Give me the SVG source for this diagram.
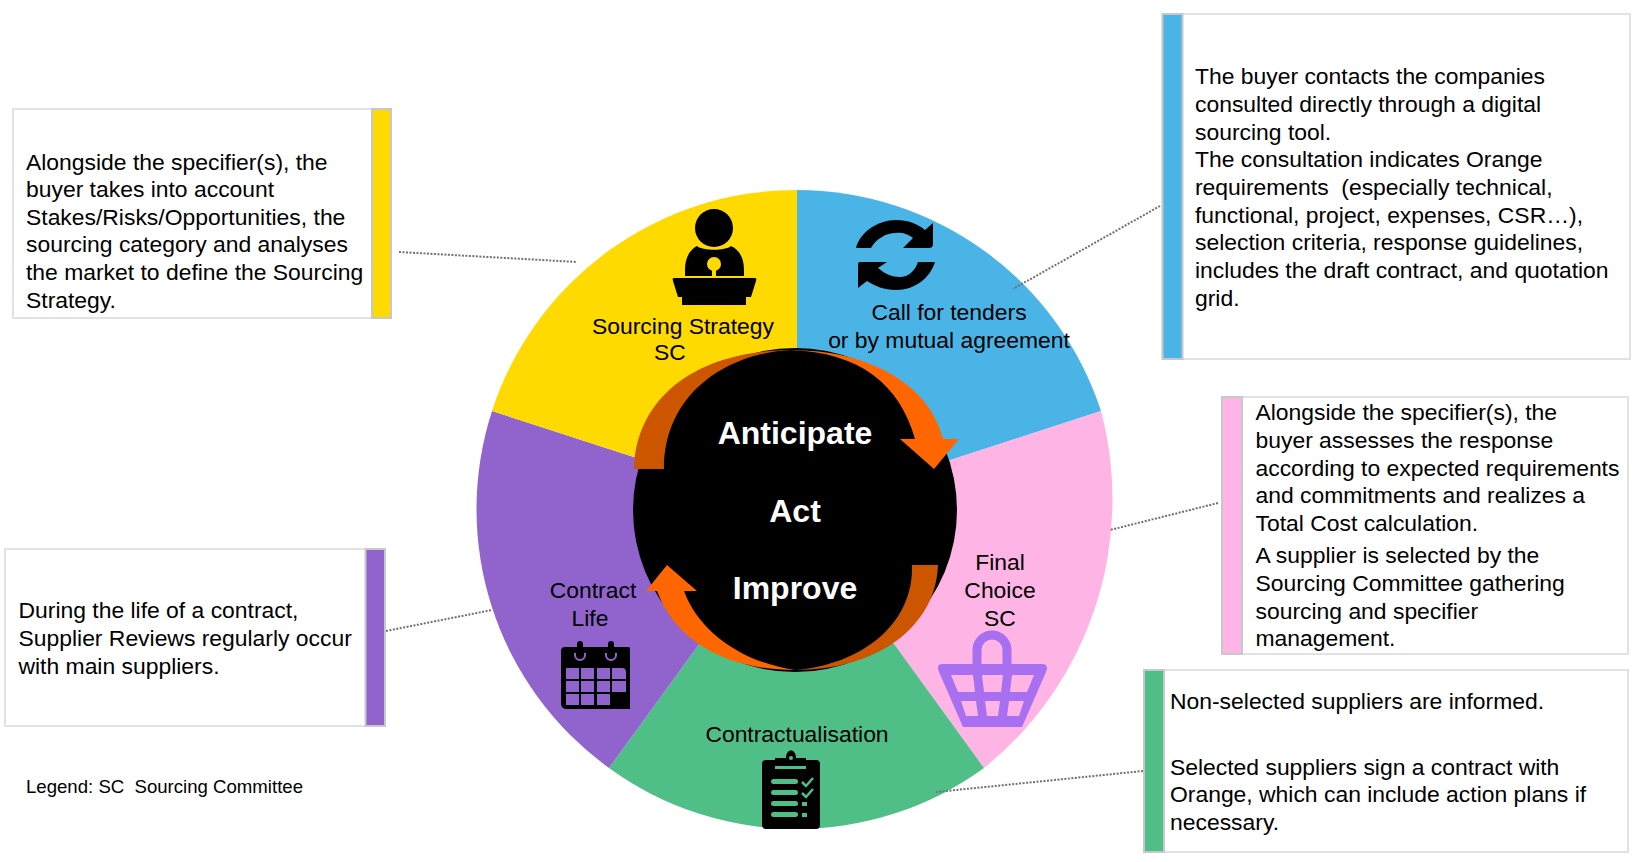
<svg xmlns="http://www.w3.org/2000/svg" width="1635" height="862" viewBox="0 0 1635 862">
<style>
text{font-family:"Liberation Sans",Arial,sans-serif;font-size:22.9px;fill:#000;white-space:pre}
.c{text-anchor:middle}
.b{font-weight:700;font-size:32px;fill:#fff;text-anchor:middle}
.box{fill:#fff;stroke:#e2e2e2;stroke-width:2}
.bar{stroke:#c8c8cc;stroke-width:2}
.lead{fill:none;stroke:#707070;stroke-width:2;stroke-dasharray:2 1.5}
</style>
<rect width="1635" height="862" fill="#fff"/>
<g id="wheel">
<path d="M797 510L797 190A320 320 0 0 1 1101 411Z" fill="#4BB4E6"/>
<path d="M797 510L1101 411A345 345 0 0 1 984 768Z" fill="#FFB4E6"/>
<path d="M797 510L984 768A319 319 0 0 1 609 768Z" fill="#50BE87"/>
<path d="M797 510L609 768A319 319 0 0 1 492 411Z" fill="#9164CD"/>
<path d="M797 510L492 411A320 320 0 0 1 797 190Z" fill="#FFDA00"/>
<circle cx="795" cy="510" r="162" fill="#000"/>
</g>
<g id="arrow-top">
<path d="M634 469C636 395 700 350 792 350C725 353 664 395 664 469Z" fill="#CC5500"/>
<path d="M790 350C870 350 930 385 943 439L959 439L934 469L900 439L915 439C900 385 860 352 790 350Z" fill="#FF6600"/>
</g>
<g id="arrow-bottom">
<path d="M912 565L938 565C936 625 880 670 795 670C860 665 914 625 912 565Z" fill="#CC5500"/>
<path d="M795 670C725 670 675 640 657 591L646 591L667 565L697 591L684 591C698 630 740 662 795 670Z" fill="#FF6600"/>
</g>
<g id="center-labels">
<text class="b" x="795" y="444">Anticipate</text>
<text class="b" x="795" y="522">Act</text>
<text class="b" x="795" y="599">Improve</text>
</g>
<g id="seg-sourcing">
<circle cx="714" cy="228" r="19"/>
<path d="M697 246C703 251 725 251 731 246C740 250 744 259 744 270L744 276L685 276L685 270C685 259 689 250 697 246Z"/>
<circle cx="714" cy="264" r="7" fill="#FFDA00"/>
<rect x="712" y="266" width="4" height="12" fill="#FFDA00"/>
<path d="M674 278L755 278Q757 278 756 281L751 297L746 297L746 305L682 305L682 297L678 297L673 281Q672 278 674 278Z"/>
<text class="c" x="683" y="334">Sourcing Strategy</text>
<text class="c" x="670" y="360">SC</text>
</g>
<g id="seg-tenders">
<path d="M856 248C860 232 878 220 896 220C908 220 918 224 925 230L933 223L933 244Q933 248 929 248L903 248L913 238C908 234 902 232 896 233C886 233 876 239 871 248Z"/>
<path d="M858 264Q858 262 860 262L887 262L878 268C885 274 892 277 900 277C908 277 915 271 918 262L935 262C930 278 915 290 896 290C884 290 875 286 867 281L858 288Z"/>
<text class="c" x="949" y="320">Call for tenders</text>
<text class="c" x="949" y="348">or by mutual agreement</text>
</g>
<g id="seg-final">
<text class="c" x="1000" y="570">Final</text>
<text class="c" x="1000" y="597.5">Choice</text>
<text class="c" x="1000" y="625.5">SC</text>
<path d="M977 665L977 650A15 15 0 0 1 1007 650L1007 665" fill="none" stroke="#A86FF0" stroke-width="9"/>
<path d="M942 664L1042 664Q1049 664 1046 672L1022 727L963 727L939 672Q936 664 942 664Z" fill="#A86FF0"/>
<path d="M951 675L973 675L975 692L958 692ZM982 675L1003 675L1001 692L984 692ZM1012 675L1034 675L1027 692L1010 692ZM961 701L976 701L978 716L966 716ZM985 701L1000 701L998 716L987 716ZM1009 701L1024 701L1019 716L1007 716Z" fill="#FFB4E6"/>
</g>
<g id="seg-contract">
<text class="c" x="797" y="742">Contractualisation</text>
<path d="M766 760L775 760L775 758L786 758C786 748 796 748 796 758L806 758L806 760L816 760Q820 760 820 764L820 825Q820 829 816 829L766 829Q762 829 762 825L762 764Q762 760 766 760Z"/>
<circle cx="791" cy="758" r="2" fill="#50BE87"/>
<path d="M775 766L775 769L806 769L806 766Z" fill="#50BE87"/>
<g fill="#50BE87"><rect x="771" y="779" width="27" height="5" rx="2.5"/><rect x="771" y="790" width="27" height="5" rx="2.5"/><rect x="771" y="801" width="27" height="5" rx="2.5"/><rect x="771" y="812" width="27" height="5" rx="2.5"/><rect x="802" y="802" width="5" height="4"/><rect x="802" y="813" width="5" height="4"/></g>
<path d="M802 782L806 786L813 778M802 793L806 797L813 789" fill="none" stroke="#50BE87" stroke-width="2.5"/>
</g>
<g id="seg-life">
<text class="c" x="593" y="598">Contract</text>
<text class="c" x="590" y="626">Life</text>
<path d="M565 647L629 647Q630 647 630 650L630 709L567 709Q561 709 561 703L561 651Q561 647 565 647Z"/>
<path d="M580 644V655M611 644V655" fill="none" stroke="#000" stroke-width="6" stroke-linecap="round"/>
<path d="M575 653V655A5 5 0 1 0 585 655V653M606 653V655A5 5 0 1 0 616 655V653" fill="none" stroke="#9164CD" stroke-width="2"/>
<path d="M566 668H579V679H566ZM581 668H594V679H581ZM597 668H610V679H597ZM612 668H622Q626 668 626 672V679H612ZM566 681H579V692H566ZM581 681H594V692H581ZM597 681H610V692H597ZM612 681H626V692H612ZM566 694H579V705H566ZM581 694H594V705H581ZM597 694H610V705H597Z" fill="#9164CD"/>
</g>
<g id="connectors">
<path class="lead" d="M399 252L577 262"/>
<path class="lead" d="M1160 206L1013 289"/>
<path class="lead" d="M1218 503L1110 530"/>
<path class="lead" d="M386 631L492 610"/>
<path class="lead" d="M1143 771L936 792"/>
</g>
<g id="note-sourcing">
<rect class="box" x="13" y="109" width="378" height="209"/>
<rect class="bar" x="372" y="109" width="19" height="209" fill="#FFDA00"/>
<text x="26" y="169.5">Alongside the specifier(s), the</text>
<text x="26" y="196.7">buyer takes into account</text>
<text x="26" y="224.8">Stakes/Risks/Opportunities, the</text>
<text x="26" y="252.3">sourcing category and analyses</text>
<text x="26" y="280">the market to define the Sourcing</text>
<text x="26" y="307.5">Strategy.</text>
</g>
<g id="note-tenders">
<rect class="box" x="1162.5" y="14" width="467.5" height="345"/>
<rect class="bar" x="1162.5" y="14" width="20" height="345" fill="#4BB4E6"/>
<text x="1195" y="84">The buyer contacts the companies</text>
<text x="1195" y="112">consulted directly through a digital</text>
<text x="1195" y="140">sourcing tool.</text>
<text x="1195" y="167">The consultation indicates Orange</text>
<text x="1195" y="195">requirements  (especially technical,</text>
<text x="1195" y="223">functional, project, expenses, CSR…),</text>
<text x="1195" y="250">selection criteria, response guidelines,</text>
<text x="1195" y="278">includes the draft contract, and quotation</text>
<text x="1195" y="306">grid.</text>
</g>
<g id="note-final">
<rect class="box" x="1222" y="397" width="406" height="257"/>
<rect class="bar" x="1222" y="397" width="20" height="257" fill="#FFB4E6"/>
<text x="1255.5" y="420">Alongside the specifier(s), the</text>
<text x="1255.5" y="448">buyer assesses the response</text>
<text x="1255.5" y="476">according to expected requirements</text>
<text x="1255.5" y="503">and commitments and realizes a</text>
<text x="1255.5" y="531">Total Cost calculation.</text>
<text x="1255.5" y="563">A supplier is selected by the</text>
<text x="1255.5" y="591">Sourcing Committee gathering</text>
<text x="1255.5" y="619">sourcing and specifier</text>
<text x="1255.5" y="646">management.</text>
</g>
<g id="note-contract">
<rect class="box" x="1144" y="670" width="484" height="182"/>
<rect class="bar" x="1144" y="670" width="20" height="182" fill="#50BE87"/>
<text x="1170" y="709">Non-selected suppliers are informed.</text>
<text x="1170" y="774.5">Selected suppliers sign a contract with</text>
<text x="1170" y="802">Orange, which can include action plans if</text>
<text x="1170" y="829.5">necessary.</text>
</g>
<g id="note-life">
<rect class="box" x="5" y="549" width="380" height="177"/>
<rect class="bar" x="365.5" y="549" width="19.5" height="177" fill="#9164CD"/>
<text x="18.5" y="618">During the life of a contract,</text>
<text x="18.5" y="646">Supplier Reviews regularly occur</text>
<text x="18.5" y="673.5">with main suppliers.</text>
</g>
<text id="legend" x="26" y="793" style="font-size:18.6px">Legend: SC  Sourcing Committee</text>
</svg>
